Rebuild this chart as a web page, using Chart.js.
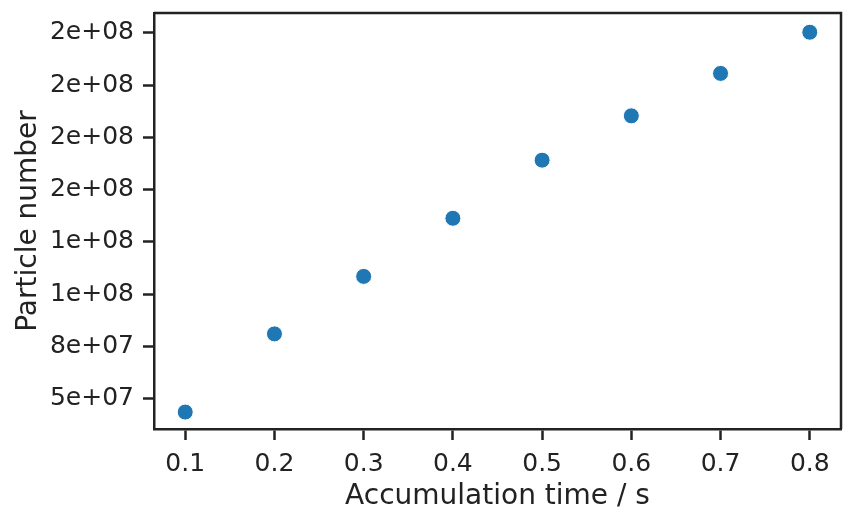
<!DOCTYPE html>
<html>
<head>
<meta charset="utf-8">
<script src="https://cdn.jsdelivr.net/npm/chart.js@4"></script>
<style>
  html, body { margin: 0; padding: 0; background: #fff; }
  #wrap { width: 846px; height: 519px; }
</style>
</head>
<body>
<div id="wrap"><canvas id="myChart" width="846" height="519"></canvas></div>
<script>
const accumulationTime = [0.1, 0.2, 0.3, 0.4, 0.5, 0.6, 0.7, 0.8];
const particleNumber = [4.36e7, 8.10e7, 1.085e8, 1.363e8, 1.641e8, 1.853e8, 2.056e8, 2.253e8];

const xTicks = [0.1, 0.2, 0.3, 0.4, 0.5, 0.6, 0.7, 0.8];
const xTickLabels = ['0.1', '0.2', '0.3', '0.4', '0.5', '0.6', '0.7', '0.8'];
const yTicks = [5e7, 7.5e7, 1e8, 1.25e8, 1.5e8, 1.75e8, 2e8, 2.25e8];
const yTickLabels = ['5e+07', '8e+07', '1e+08', '1e+08', '2e+08', '2e+08', '2e+08', '2e+08'];

const ink = '#222222';
const tickFont = { family: 'DejaVu Sans', size: 25 };
const titleFont = { family: 'DejaVu Sans', size: 28 };

// top and right spines, like matplotlib's full box
const frame = {
    id: 'frame',
    afterDraw(chart) {
        const { ctx, chartArea: a } = chart;
        ctx.save();
        ctx.strokeStyle = ink;
        ctx.lineWidth = 2.5;
        ctx.beginPath();
        ctx.moveTo(a.left, a.top);
        ctx.lineTo(a.right, a.top);
        ctx.lineTo(a.right, a.bottom);
        ctx.stroke();
        ctx.restore();
    }
};

// keep the layout from adding room for half tick labels
const noPad = s => {
    s.paddingTop = 0;
    s.paddingBottom = 0;
    s.paddingLeft = 0;
    s.paddingRight = 0;
};

const points = accumulationTime.map((t, i) => ({ x: t, y: particleNumber[i] }));

new Chart(document.getElementById('myChart').getContext('2d'), {
    type: 'scatter',
    data: {
        datasets: [{
            data: points,
            backgroundColor: '#1f77b4',
            borderColor: '#ffffff',
            borderWidth: 1,
            pointRadius: 8,
            pointHoverRadius: 8
        }]
    },
    options: {
        responsive: false,
        animation: false,
        events: [],
        layout: { autoPadding: false, padding: { left: 0, top: 13, right: 5, bottom: 0 } },
        plugins: { legend: { display: false }, tooltip: { enabled: false } },
        scales: {
            x: {
                type: 'linear',
                min: 0.065,
                max: 0.835,
                afterBuildTicks: s => { s.ticks = xTicks.map(v => ({ value: v })); },
                afterFit: s => { s.height = 90; noPad(s); },
                grid: { drawOnChartArea: false, drawTicks: true, tickLength: 11, tickWidth: 2.5, tickColor: ink },
                border: { display: true, color: ink, width: 2.5 },
                ticks: {
                    color: ink, font: tickFont, padding: 9, maxRotation: 0, autoSkip: false,
                    callback: (v, i) => xTickLabels[i]
                },
                title: { display: true, text: 'Accumulation time / s', color: ink, font: titleFont, padding: { top: 0, bottom: 5 } }
            },
            y: {
                type: 'linear',
                min: 3.55e7,
                max: 2.345e8,
                afterBuildTicks: s => { s.ticks = yTicks.map(v => ({ value: v })); },
                afterFit: s => { s.width = 154; noPad(s); },
                grid: { drawOnChartArea: false, drawTicks: true, tickLength: 11, tickWidth: 2.5, tickColor: ink },
                border: { display: true, color: ink, width: 2.5 },
                ticks: {
                    color: ink, font: tickFont, padding: 9, autoSkip: false,
                    callback: (v, i) => yTickLabels[i]
                },
                title: { display: true, text: 'Particle number', color: ink, font: titleFont, padding: { top: 12, bottom: 0 } }
            }
        }
    },
    plugins: [frame]
});
</script>
</body>
</html>
